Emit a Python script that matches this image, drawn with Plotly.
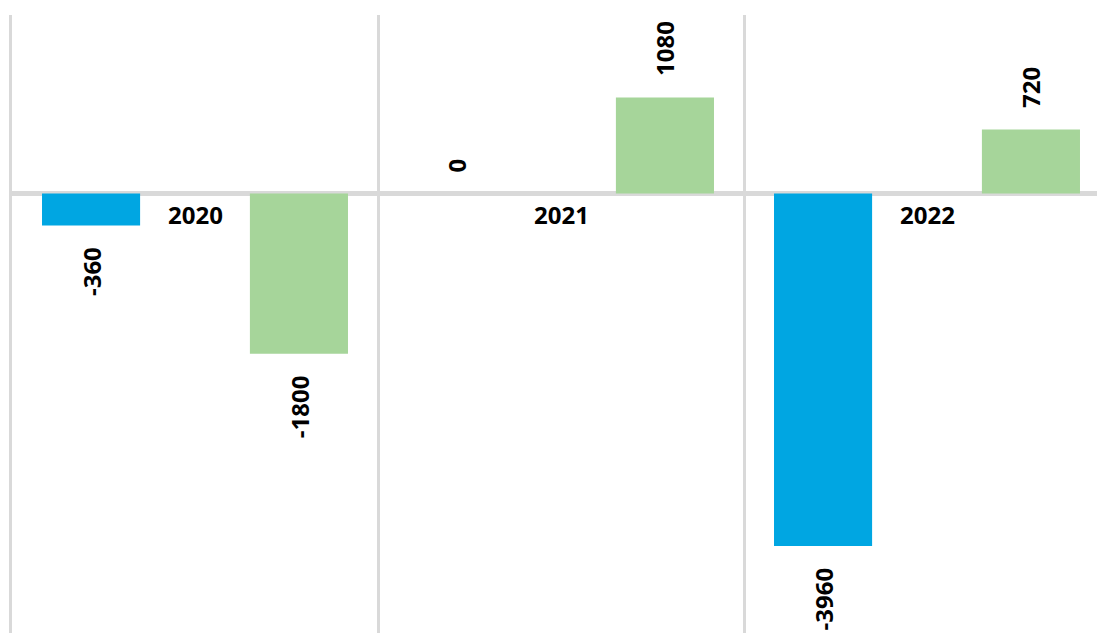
import plotly.graph_objects as go

categories = ["2020", "2021", "2022"]
series_a = [-360, 0, -3960]
series_b = [-1800, 1080, 720]

blue = "#00A6E2"
green = "#A6D59A"
grid = "#D9D9D9"
font_family = "Open Sans, Segoe UI, sans-serif"

fig = go.Figure()
fig.add_trace(go.Bar(x=categories, y=series_a, marker_color=blue, marker_line_width=0,
                     width=0.268, offset=-0.418, showlegend=False, hoverinfo="skip"))
fig.add_trace(go.Bar(x=categories, y=series_b, marker_color=green, marker_line_width=0,
                     width=0.268, offset=0.150, showlegend=False, hoverinfo="skip"))

annotations = []
for vals, xs in ((series_a, -104), (series_b, 104)):
    for i, v in enumerate(vals):
        pos = v >= 0
        annotations.append(dict(
            x=i, y=v, xref="x", yref="y", text=str(v), showarrow=False,
            textangle=-90, xshift=xs, yshift=19 if pos else -20,
            yanchor="bottom" if pos else "top", xanchor="center",
            font=dict(family=font_family, size=24, color="#000000", weight=700),
        ))
for i, c in enumerate(categories):
    annotations.append(dict(
        x=i, y=0, xref="x", yref="y", text=c, showarrow=False,
        yanchor="middle", xanchor="center", yshift=-21,
        font=dict(family=font_family, size=24, color="#000000", weight=700),
    ))

fig.update_layout(
    width=1097, height=633,
    margin=dict(l=12, r=0, t=15, b=0),
    paper_bgcolor="white", plot_bgcolor="white",
    annotations=annotations,
    barmode="group",
)
fig.update_xaxes(type="category", range=[-0.5, -0.5 + 1085 / 366], showticklabels=False,
                 tickson="boundaries", showgrid=True, gridcolor=grid, gridwidth=3,
                 ticks="", zeroline=False, showline=False)
fig.update_yaxes(range=[-4938, 2006], showticklabels=False, showgrid=False,
                 zeroline=True, zerolinecolor=grid, zerolinewidth=5,
                 showline=True, linecolor=grid, linewidth=3, ticks="")

fig.write_html("out.html")
